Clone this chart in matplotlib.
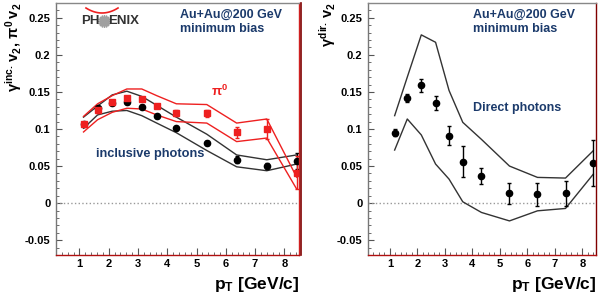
import numpy as np
import matplotlib
matplotlib.use("Agg")
import matplotlib.pyplot as plt
from matplotlib.lines import Line2D

# pT bin positions (GeV/c)
pt = [1.14, 1.62, 2.12, 2.62, 3.13, 3.64, 4.31, 5.35, 6.37, 7.40, 8.42]

# inclusive photon v2 (black) with stat. errors and sys. band
inc_v2 = [0.107, 0.128, 0.135, 0.136, 0.130, 0.117, 0.101, 0.081, 0.0585, 0.0496, 0.0568]
inc_err = [0.002, 0.002, 0.002, 0.002, 0.002, 0.002, 0.002, 0.003, 0.0045, 0.004, 0.011]
inc_hi = [0.116, 0.131, 0.146, 0.151, 0.144, 0.132, 0.116, 0.093, 0.065, 0.0585, 0.065]
inc_lo = [0.101, 0.119, 0.124, 0.125, 0.118, 0.108, 0.095, 0.071, 0.049, 0.0437, 0.0527]

# pi0 v2 (red)
pi0_v2 = [0.107, 0.125, 0.136, 0.1415, 0.1405, 0.131, 0.122, 0.121, 0.0955, 0.100, 0.041]
pi0_err = [0.003, 0.003, 0.003, 0.003, 0.003, 0.003, 0.004, 0.0045, 0.0075, 0.0135, 0.022]
pi0_hi = [0.117, 0.134, 0.145, 0.154, 0.154, 0.145, 0.134, 0.133, 0.108, 0.1135, 0.035]
pi0_lo = [0.096, 0.1125, 0.1225, 0.128, 0.127, 0.119, 0.110, 0.108, 0.083, 0.0878, 0.019]

# direct photon v2
pt_dir = [1.17, 1.63, 2.14, 2.66, 3.15, 3.65, 4.33, 5.35, 6.37, 7.39, 8.40]
dir_v2 = [0.095, 0.142, 0.159, 0.135, 0.091, 0.0558, 0.037, 0.013, 0.0117, 0.0135, 0.0536]
dir_err = [0.005, 0.0056, 0.009, 0.009, 0.013, 0.021, 0.011, 0.014, 0.0158, 0.017, 0.031]
dir_hi = [0.118, 0.170, 0.227, 0.217, 0.152, 0.109, 0.086, 0.050, 0.0347, 0.0338, 0.0707]
dir_lo = [0.0716, 0.1135, 0.092, 0.0527, 0.0324, 0.0018, -0.0126, -0.024, -0.0104, -0.0072, 0.039]

plt.rcParams['font.family'] = ['Liberation Sans', 'DejaVu Sans']
plt.rcParams['mathtext.fontset'] = 'custom'
plt.rcParams['mathtext.rm'] = 'Liberation Sans:bold'
plt.rcParams['mathtext.it'] = 'Liberation Sans:bold'
plt.rcParams['mathtext.bf'] = 'Liberation Sans:bold'

navy = '#1b3a6b'
red = '#ee2020'

fig = plt.figure(figsize=(6, 3.03), dpi=100)
axL = fig.add_axes([56/600, 1-255/303, 243/600, 252/303])
axR = fig.add_axes([368/600, 1-255/303, 228/600, 252/303])


def style(ax, tx):
    ax.set_xlim(0.2, 8.5)
    ax.set_ylim(-0.07, 0.27)
    ax.set_xticks(range(1, 9))
    ax.set_yticks([-0.05, 0, 0.05, 0.1, 0.15, 0.2, 0.25])
    ax.set_yticklabels(['-0.05', '0', '0.05', '0.1', '0.15', '0.2', '0.25'])
    ax.set_xticks(np.arange(0.2, 8.5, 0.2), minor=True)
    ax.set_yticks(np.arange(-0.07, 0.27, 0.01), minor=True)
    ax.tick_params(which='both', direction='in', top=False, right=False,
                   color='#555555', labelsize=8)
    ax.tick_params(axis='x', which='major', length=5, pad=3)
    ax.tick_params(axis='x', which='minor', length=2.5)
    ax.tick_params(axis='y', which='major', length=4, pad=4)
    ax.tick_params(axis='y', which='minor', length=2)
    for lab in ax.get_xticklabels() + ax.get_yticklabels():
        lab.set_fontweight('bold')
    ax.axhline(0, color='#999999', lw=1, ls=':')
    ax.spines['left'].set_color('#777777')
    ax.spines['top'].set_color('#888888')
    ax.spines['bottom'].set_color('#b01010')
    ax.spines['right'].set_color('#d02020')
    for s in ax.spines.values():
        s.set_linewidth(1)
    ax.set_xlabel(r'$\mathregular{p_T}$ [GeV/c]', fontsize=12.5, fontweight='bold',
                  loc='right', labelpad=4)
    ax.text(tx, 0.925, 'Au+Au@200 GeV\nminimum bias', transform=ax.transAxes,
            color=navy, fontsize=9, fontweight='bold', va='center', ha='left',
            linespacing=1.2)


style(axL, 0.51)
style(axR, 0.46)
axR.spines['right'].set_color('#800000')

# left panel
axL.plot(pt, inc_hi, color='#333333', lw=1)
axL.plot(pt, inc_lo, color='#333333', lw=1)
axL.plot(pt, pi0_hi, color=red, lw=1)
axL.plot(pt, pi0_lo, color=red, lw=1)
axL.errorbar(pt, inc_v2, yerr=inc_err, fmt='o', color='black', ms=4.5,
             capsize=1.5, elinewidth=1)
axL.errorbar(pt, pi0_v2, yerr=pi0_err, fmt='s', color=red, ms=5,
             capsize=1.5, elinewidth=1)
axL.text(5.5, 0.151, r'$\pi^0$', color=red, fontsize=9.5, va='center')
axL.text(1.58, 0.066, 'inclusive photons', color=navy, fontsize=9.2,
         fontweight='bold', va='center')
axL.set_ylabel(r'$\gamma^{inc.}\,v_2,\,\pi^0\,v_2$', fontsize=10.5,
               fontweight='bold', loc='top')
axL.yaxis.set_label_coords(-0.13, 1.0)

# right panel
axR.plot(pt_dir, dir_hi, color='#333333', lw=1)
axR.plot(pt_dir, dir_lo, color='#333333', lw=1)
axR.errorbar(pt_dir, dir_v2, yerr=dir_err, fmt='o', color='black', ms=4.5,
             capsize=1.5, elinewidth=1)
axR.text(0.46, 0.585, 'Direct photons', transform=axR.transAxes, color=navy,
         fontsize=9, fontweight='bold', va='center')
axR.set_ylabel(r'$\gamma^{dir.}\,v_2$', fontsize=10.5, fontweight='bold',
               loc='top')
axR.yaxis.set_label_coords(-0.13, 1.0)

# pad border between panels
fig.add_artist(Line2D([301/600, 301/600], [1-255/303, 1-3/303],
                      color='#800000', lw=1.2))

# PHENIX logo
fig.text(81/600, 1-21/303, 'PH', fontsize=9.5, fontweight='bold',
         color='#333333', va='center', ha='left')
fig.text(108/600, 1-21/303, 'ENIX', fontsize=9.5, fontweight='bold',
         color='#333333', va='center', ha='left')
fig.add_artist(Line2D([104/600], [1-21/303], marker=(16, 2, 0), ms=9,
                      color='#a0a0a0', mew=1))
arc_x = np.linspace(86, 118, 30)
arc_y = 13 - 5*((arc_x-102)/16)**2
fig.add_artist(Line2D(arc_x/600, 1-arc_y/303, color=red, lw=1.2))

fig.savefig('out.png', dpi=100)
